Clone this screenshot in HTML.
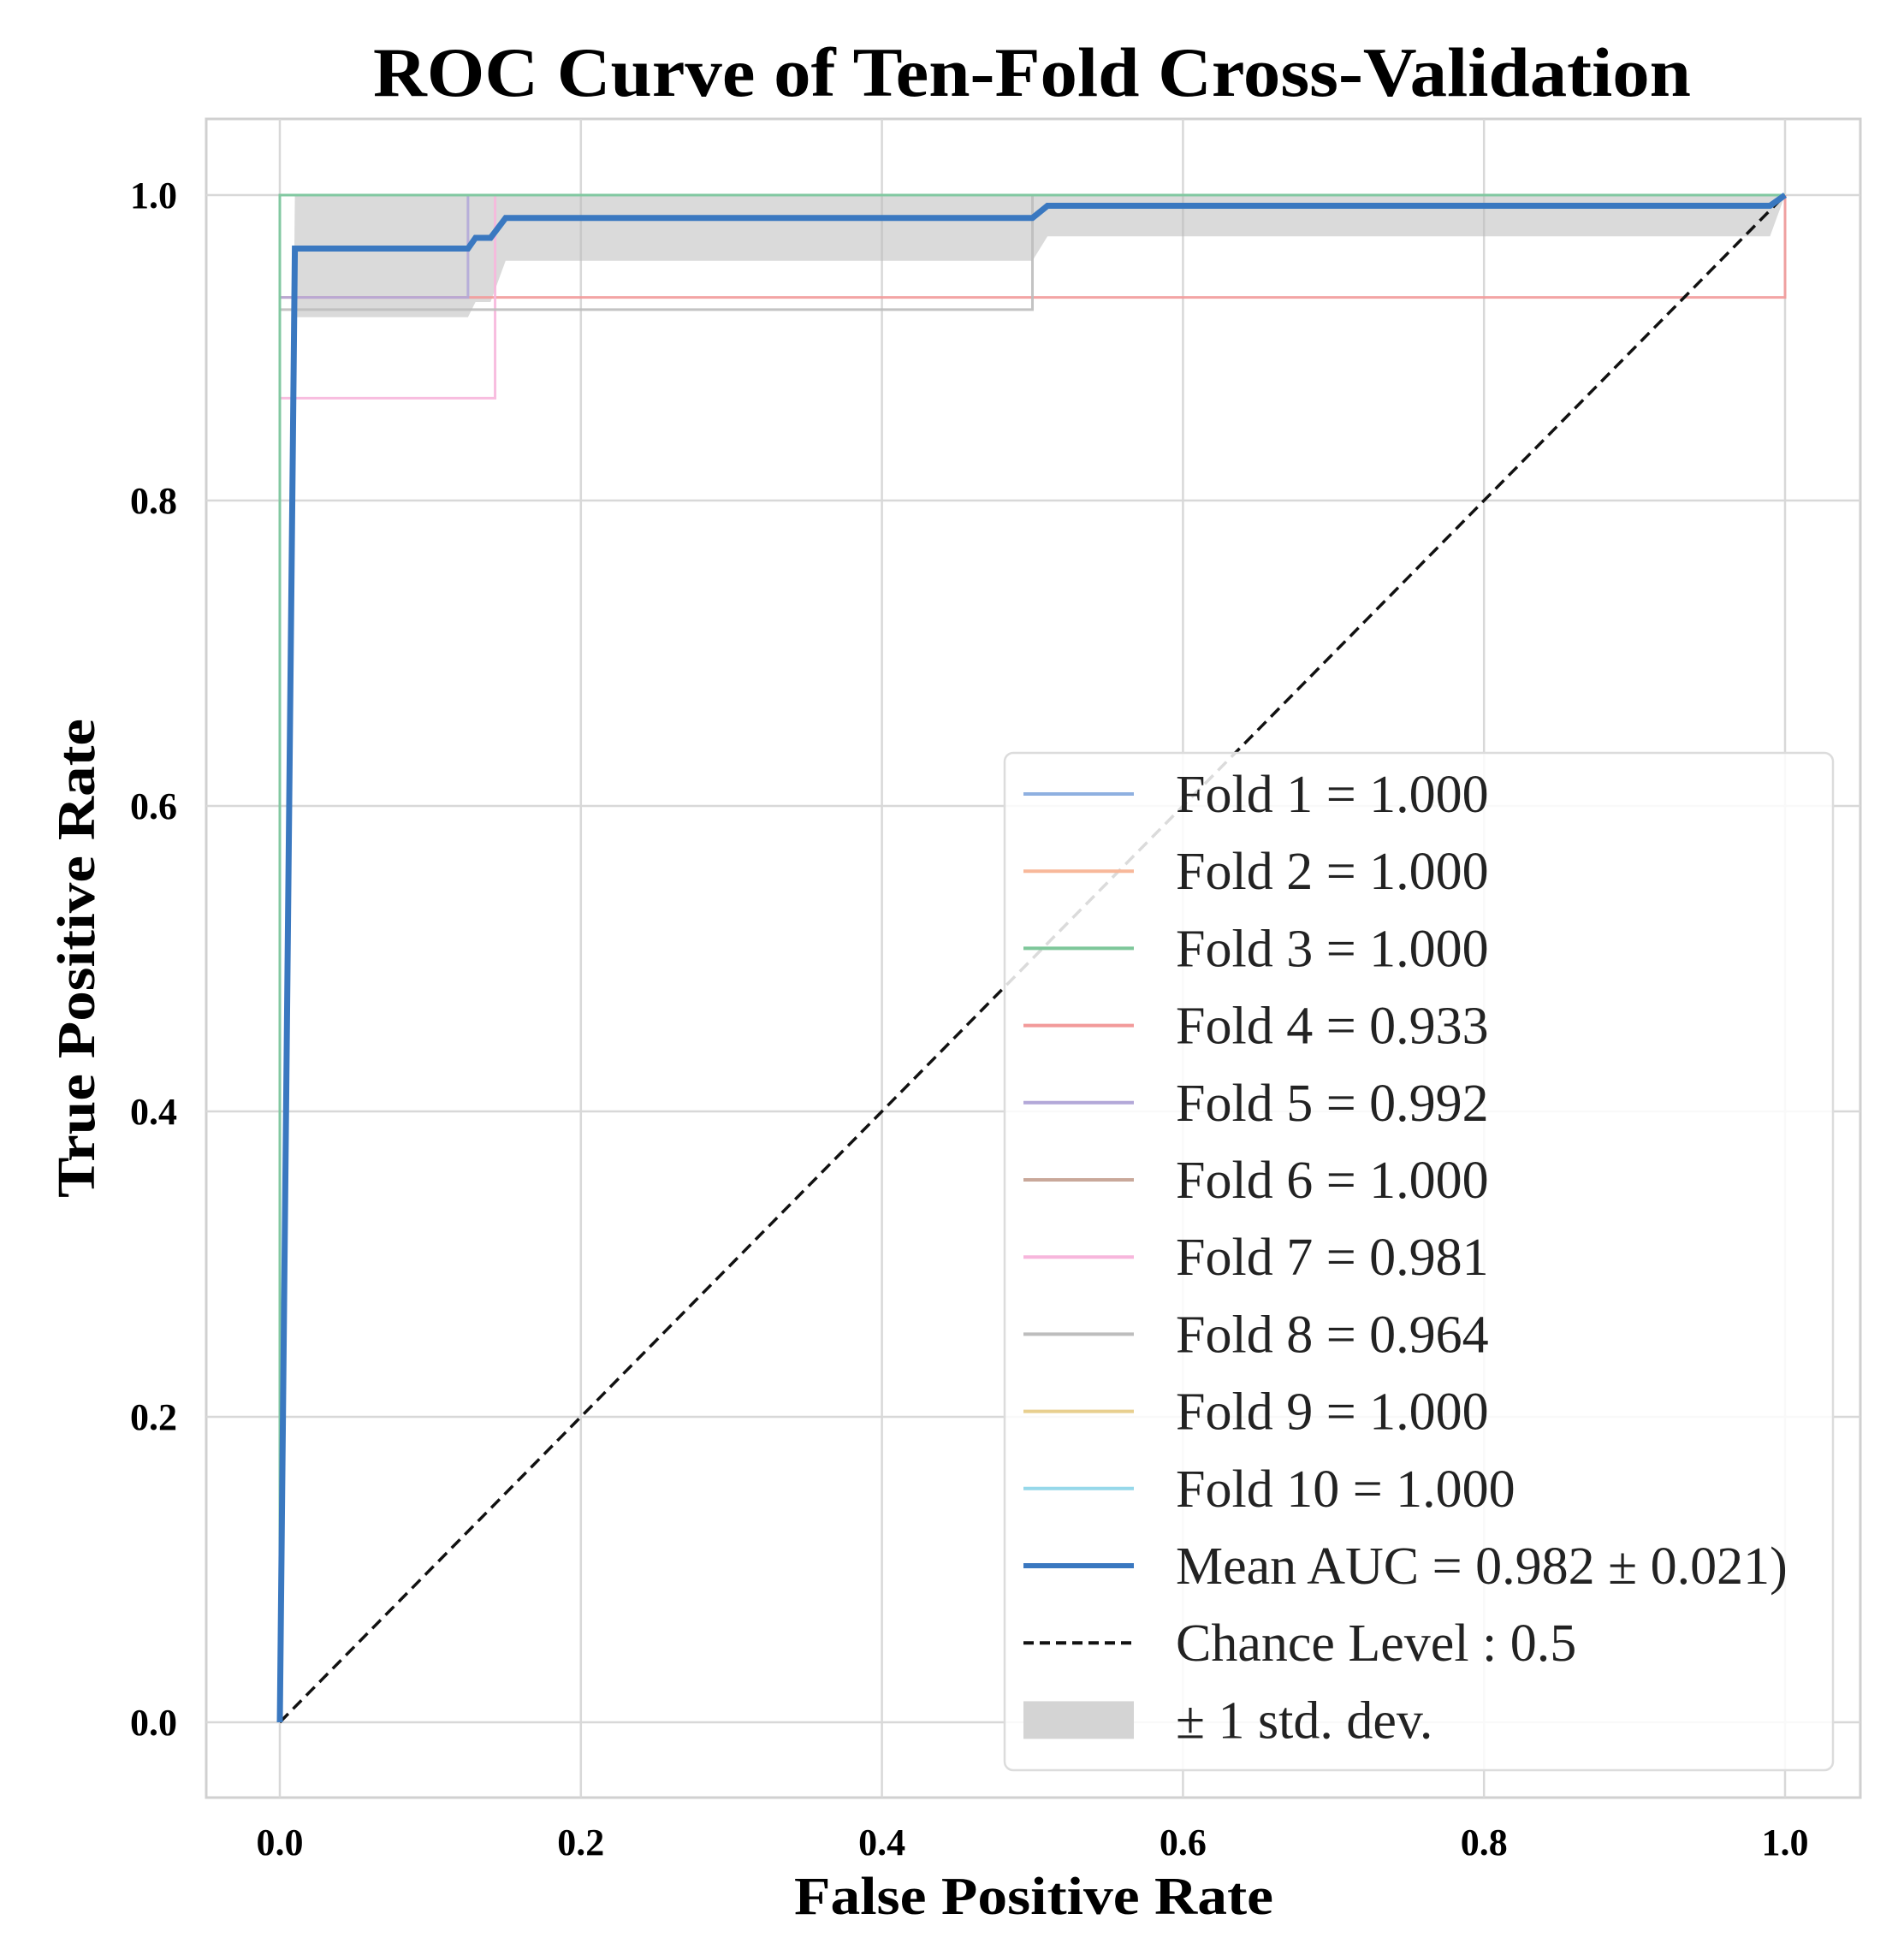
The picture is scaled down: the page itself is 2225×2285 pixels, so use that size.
<!DOCTYPE html>
<html><head><meta charset="utf-8"><style>
html,body{margin:0;padding:0;background:#fff;}
svg{display:block;font-family:"Liberation Serif",serif;}
</style></head><body>
<svg id="chart" width="2225" height="2285" viewBox="0 0 2225 2285" xmlns="http://www.w3.org/2000/svg">
<rect x="0" y="0" width="2225" height="2285" fill="#fff"/>
<text x="1206" y="112" font-size="82" font-weight="bold" text-anchor="middle" textLength="1540" lengthAdjust="spacingAndGlyphs">ROC Curve of Ten-Fold Cross-Validation</text>
<rect x="241" y="139" width="1933" height="1962" fill="#fff" stroke="#d0d0d0" stroke-width="3"/>
<g id="grid"></g>
<g id="ticks"></g>
<g id="band"></g>
<g id="folds"></g>
<g id="mean"></g>
<text x="1208" y="2237" font-size="62" font-weight="bold" text-anchor="middle" textLength="560" lengthAdjust="spacingAndGlyphs">False Positive Rate</text>
<text transform="translate(110,1120) rotate(-90)" font-size="62" font-weight="bold" text-anchor="middle" textLength="560" lengthAdjust="spacingAndGlyphs">True Positive Rate</text>
<g id="legend"></g>
</svg>
<script>
const xTicks=[0,0.2,0.4,0.6,0.8,1.0];
const yTicks=[0,0.2,0.4,0.6,0.8,1.0];
const foldNames=["Fold 1","Fold 2","Fold 3","Fold 4","Fold 5","Fold 6","Fold 7","Fold 8","Fold 9","Fold 10"];
const foldAuc=["1.000","1.000","1.000","0.933","0.992","1.000","0.981","0.964","1.000","1.000"];
const foldColors=["#8fb0e0","#f8b89a","#7ec79a","#f29a9a","#b3a8d8","#c9a89a","#f7b6dc","#bdbdbd","#e8cf8f","#96d8ea"];
const foldFpr=[[0,0,1],[0,0,1],[0,0,1],[0,0,1,1],[0,0,0.125,0.125,1],[0,0,1],[0,0,0.143,0.143,1],[0,0,0.5,0.5,1],[0,0,1],[0,0,1]];
const foldTpr=[[0,1,1],[0,1,1],[0,1,1],[0,0.933,0.933,1],[0,0.933,0.933,1,1],[0,1,1],[0,0.867,0.867,1,1],[0,0.925,0.925,1,1],[0,1,1],[0,1,1]];
const meanFpr=[0,0.01,0.125,0.13,0.14,0.15,0.5,0.51,0.99,1];
const meanTpr=[0,0.965,0.965,0.972,0.972,0.985,0.985,0.993,0.993,1];
const bandUpper=[0,1,1,1,1,1,1,1,1,1];
const bandLower=[0,0.92,0.92,0.93,0.93,0.957,0.957,0.973,0.973,1];
const meanLabel="Mean AUC = 0.982 \u00b1 0.021)";
const chanceLabel="Chance Level : 0.5";
const bandLabel="\u00b1 1 std. dev.";

const X0=327,X1=2086,Y0=2013,Y1=228;
const sx=v=>X0+(X1-X0)*v, sy=v=>Y0-(Y0-Y1)*v;
const NS="http://www.w3.org/2000/svg";
function mk(tag,attrs,parent){const e=document.createElementNS(NS,tag);for(const k in attrs)e.setAttribute(k,attrs[k]);parent.appendChild(e);return e;}
const grid=document.getElementById('grid'),ticks=document.getElementById('ticks');
xTicks.forEach(t=>{
  const l=mk('line',{x1:sx(t),x2:sx(t),y1:139,y2:2101,stroke:'#d8d8d8','stroke-width':2.5},grid);
  
  
  const tx=mk('text',{x:sx(t),y:2168,'font-size':44,'font-weight':'bold','text-anchor':'middle'},ticks);
  tx.textContent=t.toFixed(1);
  
  
});
yTicks.forEach(t=>{
  const l=mk('line',{x1:241,x2:2174,y1:sy(t),y2:sy(t),stroke:'#d8d8d8','stroke-width':2.5},grid);
  
  
  const tx=mk('text',{x:207,y:sy(t)+15,'font-size':44,'font-weight':'bold','text-anchor':'end'},ticks);
  tx.textContent=t.toFixed(1);
  
  
});
let d='';
meanFpr.forEach((f,i)=>{d+=(i?'L':'M')+sx(f)+','+sy(bandUpper[i]);});
for(let i=meanFpr.length-1;i>=0;i--)d+='L'+sx(meanFpr[i])+','+sy(bandLower[i]);
const band=mk('path',{d:d+'Z',fill:'#bbbbbb','fill-opacity':0.55,stroke:'none'},document.getElementById('band'));


const fg=document.getElementById('folds');
const drawOrder=[0,1,3,4,5,6,7,8,9,2];
drawOrder.forEach(k=>{
  const fx=foldFpr[k];
  const pts=fx.map((f,i)=>sx(f)+','+sy(foldTpr[k][i])).join(' ');
  const p=mk('polyline',{points:pts,fill:'none',stroke:foldColors[k],'stroke-width':3,'stroke-opacity':0.9},fg);
  
  
});
const ch=mk('line',{x1:sx(0),y1:sy(0),x2:sx(1),y2:sy(1),stroke:'#111','stroke-width':3.5,'stroke-dasharray':'14,8'},fg);


const mp=mk('polyline',{points:meanFpr.map((f,i)=>sx(f)+','+sy(meanTpr[i])).join(' '),fill:'none',stroke:'#3a78c0','stroke-width':7},document.getElementById('mean'));


const lg=document.getElementById('legend');
const box=mk('rect',{x:1174,y:880,width:968,height:1189,rx:10,fill:'#fff','fill-opacity':0.85,stroke:'#dcdcdc','stroke-width':2.5},lg);


const labels=foldNames.map((n,i)=>n+' = '+foldAuc[i]).concat([meanLabel,chanceLabel,bandLabel]);
labels.forEach((lab,i)=>{
  const y=928+90.2*i;
  if(i<10){
    const l=mk('line',{x1:1196,x2:1325,y1:y,y2:y,stroke:foldColors[i],'stroke-width':4},lg);
    
    
  }else if(i==10){
    const l=mk('line',{x1:1196,x2:1325,y1:y,y2:y,stroke:'#3a78c0','stroke-width':6},lg);
    
    
  }else if(i==11){
    const l=mk('line',{x1:1196,x2:1325,y1:y,y2:y,stroke:'#111','stroke-width':4,'stroke-dasharray':'12,7'},lg);
    
    
  }else{
    const r=mk('rect',{x:1196,y:y-22,width:129,height:44,fill:'#d4d4d4'},lg);
    
    
  }
  const t=mk('text',{x:1374,y:y+21,'font-size':62,fill:'#222'},lg);
  t.textContent=lab;
  
  
});
</script>
</body></html>
